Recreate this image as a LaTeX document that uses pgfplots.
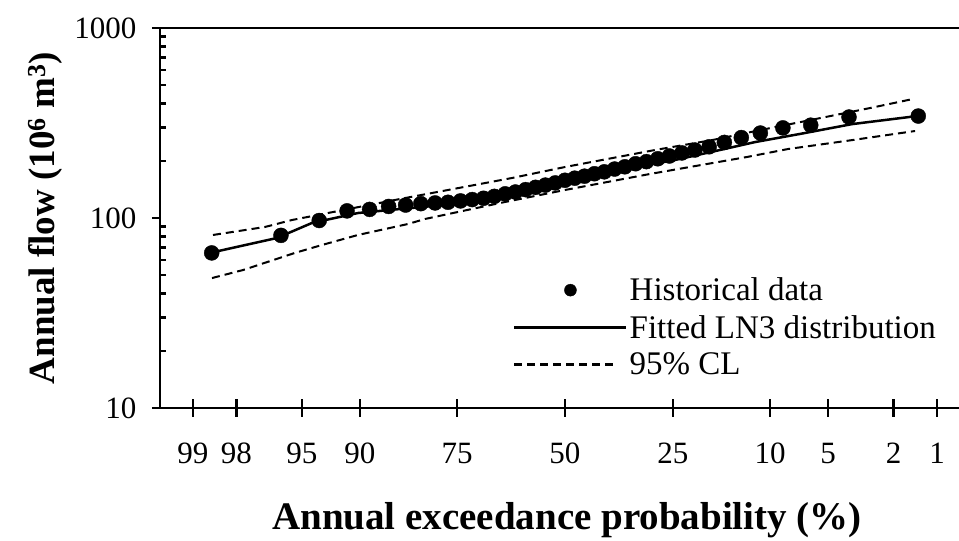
\documentclass[border=0pt]{standalone}
\usepackage{fontspec}
\setmainfont{Liberation Serif}
\usepackage{pgfplots}
\usepackage{pgfplotstable}
\usetikzlibrary{calc}
\pgfplotsset{compat=1.18}
\pgfplotsset{
  dotlegend/.style={legend image code/.code={\path[draw=none] (0pt,0pt) -- (112pt,0pt); \draw[##1] plot coordinates {(56pt,0pt)};}},
  solidlegend/.style={legend image code/.code={\draw[##1] (0pt,0pt) -- (112pt,0pt);}},
  dashlegend/.style={legend image code/.code={\draw[##1] (0pt,0pt) -- (100pt,0pt); \path[draw=none] (0pt,0pt) -- (112pt,0pt);}},
}
\pgfplotstableread{
z v
2.208 344
1.775 340
1.536 308
1.362 298
1.221 280
1.102 265
0.996 250
0.901 237
0.812 228
0.731 220
0.653 212
0.580 205
0.509 198
0.441 193
0.374 186
0.310 181
0.246 175
0.184 171
0.122 166
0.061 162
0 158
-0.061 153
-0.122 149
-0.184 145
-0.246 141
-0.310 137
-0.374 134
-0.441 130
-0.509 127
-0.580 125
-0.653 123
-0.731 121
-0.812 120
-0.901 119
-0.996 117
-1.102 115
-1.221 111
-1.362 109
-1.536 97
-1.775 81
-2.208 65.5
}\histdata
\pgfplotstableread{
z v
-2.219 65.5
-1.800 78.5
-1.581 94.2
-1.294 106.2
-1.031 111.5
-0.688 118.5
-0.406 130.6
0 158.5
0.344 179
0.688 202
0.969 228
1.188 251
1.469 277
1.794 312
2.200 344
}\fitted
\pgfplotstableread{
z v
-2.200 81.4
-1.875 89.7
-1.706 97.6
-1.031 125.9
-0.331 162.4
0 185.5
0.563 228
0.919 257
1.219 290
1.688 348
1.906 379
2.175 423
}\uppercl
\pgfplotstableread{
z v
-2.206 48.3
-2.013 53.2
-1.688 65.5
-1.519 72.1
-1.294 81.4
-0.981 93.0
-0.875 98.8
-0.406 119.9
0 140.4
0.531 170.5
1.138 209.5
1.394 230.7
1.794 257
2.188 287
}\lowercl
\begin{document}
\begin{tikzpicture}
\begin{axis}[
  scale only axis,
  width=815pt, height=380pt,
  xmin=-2.531, xmax=2.5625,
  ymode=log, ymin=10, ymax=1000,
  axis line style={line width=2.5pt},
  every tick/.style={black, line width=2.5pt},
  tick align=outside,
  xtick pos=bottom, ytick pos=left,
  xtick=\empty,
  ytick={10,100,1000},
  yticklabels={10,100,1000},
  major tick length=8pt,
  yminorticks=false,
  extra x ticks={-2.326,-2.054,-1.645,-1.2816,-0.6745,0,0.6745,1.2816,1.645,2.054,2.326},
  extra x tick labels={99,98,95,90,75,50,25,10,5,2,1},
  extra x tick style={tick align=center, major tick length=18pt},
  extra y ticks={20,30,40,50,60,70,80,90,200,300,400,500,600,700,800,900},
  extra y tick labels={},
  extra y tick style={tick align=inside, major tick length=6pt},
  /pgf/number format/assume math mode=true,
  tick label style={font=\fontsize{31}{34}\selectfont},
  xticklabel style={anchor=base, yshift=-47pt},
  yticklabel style={xshift=-12pt},
  xlabel={\bfseries Annual exceedance probability (\%)},
  ylabel={\bfseries Annual flow (10\textsuperscript{6} m\textsuperscript{3})},
  every axis x label/.style={at={(rel axis cs:0.4994,0)}, anchor=base, yshift=-122pt, font=\fontsize{39}{43}\selectfont},
  every axis y label/.style={at={(rel axis cs:0,0.5)}, rotate=90, anchor=center, yshift=115pt, font=\fontsize{37}{42}\selectfont},
  legend style={draw=none, fill=none, at={(rel axis cs:0.4331,0.348)}, anchor=north west,
    font=\fontsize{33}{36}\selectfont, inner sep=0pt, row sep=9pt, cells={anchor=west}},
]
\coordinate (sw) at (rel axis cs:0,0);
\addplot[black, line width=2pt, dash pattern=on 8pt off 5pt, forget plot] table[x=z,y=v] {\uppercl};
\addplot[black, line width=2pt, dash pattern=on 8pt off 5pt, forget plot] table[x=z,y=v] {\lowercl};
\addplot[black, line width=2.5pt, forget plot] table[x=z,y=v] {\fitted};
\addplot[only marks, mark=*, mark size=7.5pt, black, forget plot] table[x=z,y=v] {\histdata};
\addlegendimage{black, mark=*, mark size=6pt, dotlegend}
\addlegendentry{Historical data}
\addlegendimage{black, line width=2.5pt, solidlegend}
\addlegendentry{Fitted LN3 distribution}
\addlegendimage{black, line width=2.5pt, dash pattern=on 8pt off 5pt, dashlegend}
\addlegendentry{95\% CL}
\end{axis}
\pgfresetboundingbox
\path[use as bounding box] ($(sw)+(-160pt,-133pt)$) rectangle ($(sw)+(799pt,408pt)$);
\end{tikzpicture}
\end{document}
